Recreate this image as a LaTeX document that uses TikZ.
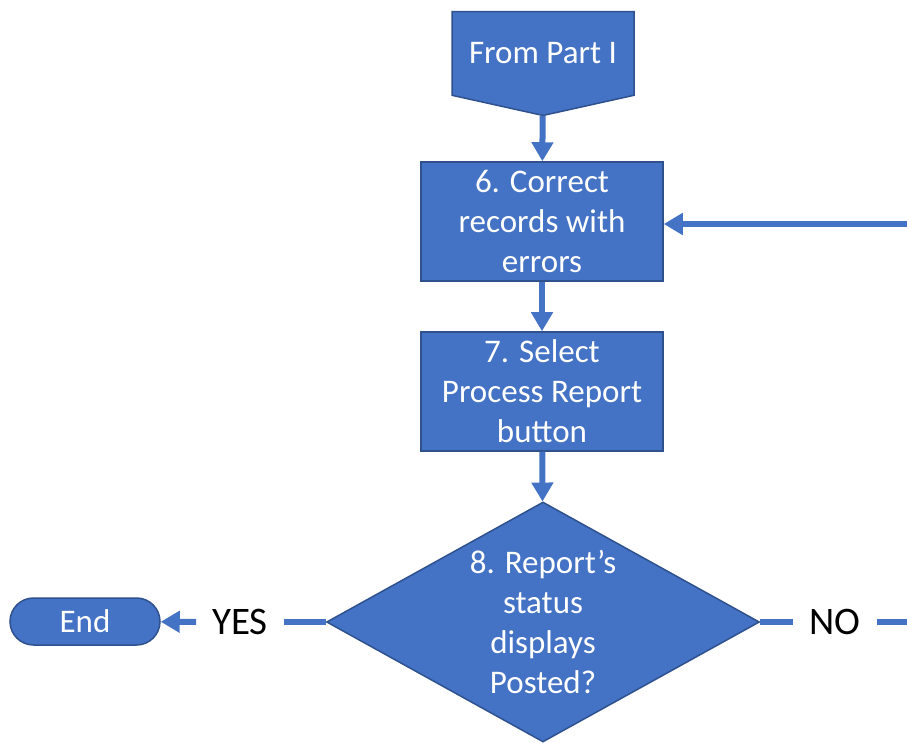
\documentclass[tikz,border=0pt]{standalone}
\usepackage{fontspec}
\setmainfont{Carlito}
\usetikzlibrary{shapes.geometric,shapes.symbols,arrows.meta}
\definecolor{boxblue}{HTML}{4472C4}
\definecolor{edgeblue}{HTML}{2F528F}

\begin{document}
\begin{tikzpicture}[x=1pt, y=1pt, font=\fontsize{33}{40}\selectfont,
    block/.style={draw=edgeblue, line width=1.5pt, fill=boxblue, text=white, align=center, inner sep=0pt},
    flow/.style={draw=boxblue, line width=6pt},
    tip/.style={-{Triangle[width=21pt, length=19pt]}},
    answer/.style={font=\fontsize{39}{40}\selectfont, inner xsep=16pt}]
    \path[use as bounding box, clip] (0, 0) rectangle (907, 742);

    \node (from) [block, signal, signal to=south, signal pointer angle=155, minimum width=182pt, minimum height=100pt] at (543, 688.5) {From Part I};
    \node (correct) [block, minimum width=242pt, minimum height=119pt] at (542, 520.5) {6. Correct\\records with\\errors};
    \node (select) [block, minimum width=242pt, minimum height=119pt] at (542, 350.5) {7. Select\\Process Report\\button};
    \node (posted) [block, diamond, aspect=1.8, minimum width=433pt, minimum height=240pt] at (543, 120) {8. Report’s\\status\\displays\\Posted?};
    \node (end) [block, rounded corners=23.5pt, minimum width=150pt, minimum height=47pt] at (85, 120.5) {End};
    \node (yes) [answer] at (240, 120) {YES};
    \node (no) [answer] at (835, 120) {NO};
    \coordinate (exit) at (925, 120);
    \coordinate (back) at (925, 518);

    \draw[flow, tip] (from) -- (correct);
    \draw[flow, tip] (correct) -- (select);
    \draw[flow, tip] (select) -- (posted);
    \draw[flow] (posted.west) -- (yes);
    \draw[flow, tip] (yes) -- (end);
    \draw[flow] (posted.east) -- (no);
    \draw[flow, tip] (no) -- (exit) -- (back) -- (correct.east |- back);
\end{tikzpicture}
\end{document}
